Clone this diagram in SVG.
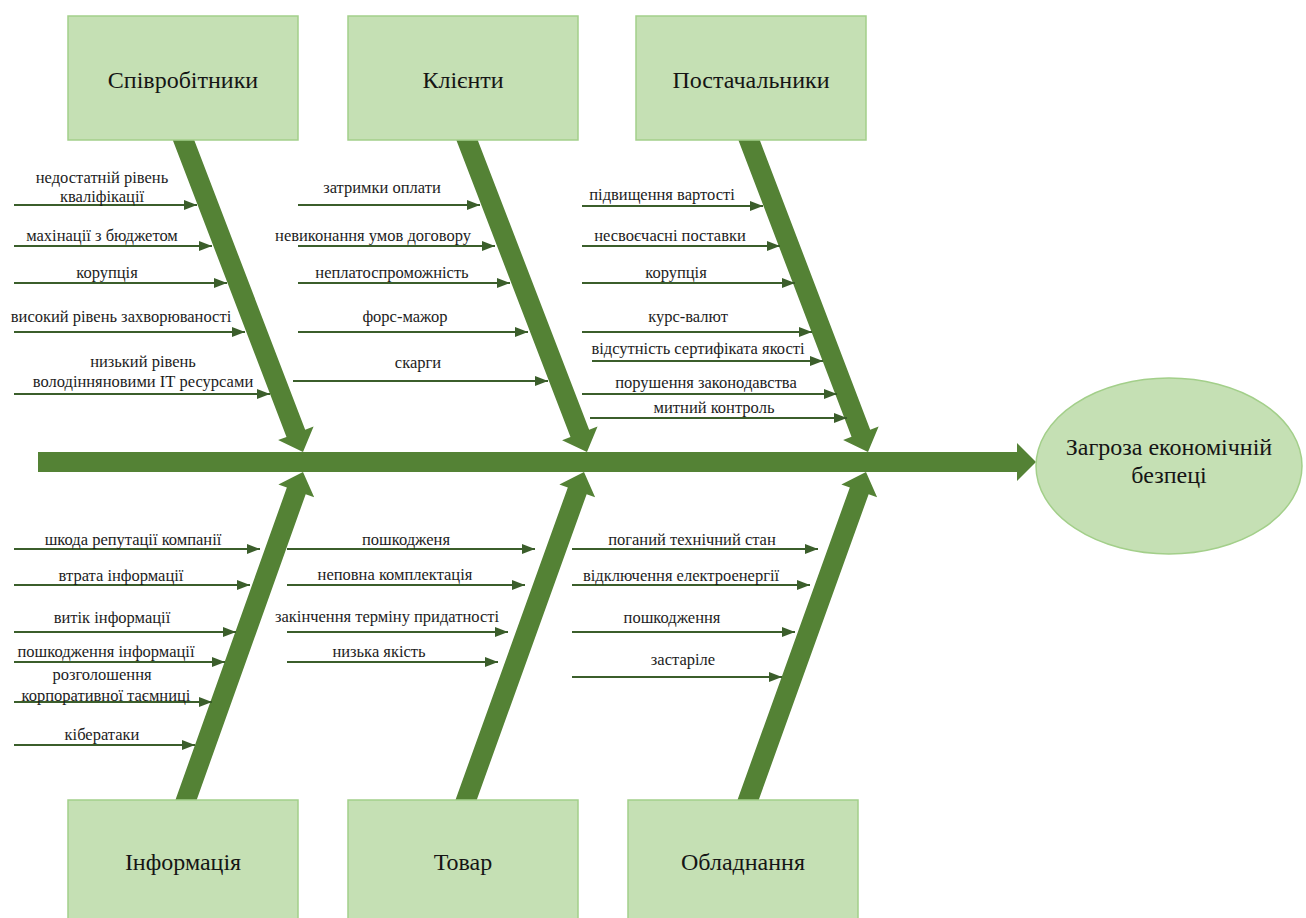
<svg xmlns="http://www.w3.org/2000/svg" width="1306" height="918" viewBox="0 0 1306 918" font-family="Liberation Serif, DejaVu Serif, serif">
<style>
.box{fill:#c5e0b4;stroke:#a3cf8a;stroke-width:1.5}
.big{fill:#548235}
.title{font-size:24px;fill:#151515;text-anchor:middle}
.lbl{font-size:16.5px;fill:#1c1c1c;text-anchor:middle}
.sa{stroke:#3b5e2b;stroke-width:2;fill:none;marker-end:url(#ah)}
</style>
<defs>
<marker id="ah" markerUnits="userSpaceOnUse" markerWidth="13" markerHeight="10" viewBox="0 0 13 10" refX="13" refY="5" orient="auto">
<path d="M0,0 L13,5 L0,10 z" fill="#3b5e2b"/>
</marker>
</defs>
<g id="connectors">
<polygon class="big" points="38,452 1017,452 1017,443 1036,462 1017,481 1017,472 38,472"/>
<polygon class="big" transform="translate(303,452) rotate(69.04)" points="-345,-10 -20,-10 -20,-19 0,0 -20,19 -20,10 -345,10"/>
<polygon class="big" transform="translate(587,452) rotate(68.96)" points="-345,-10 -20,-10 -20,-19 0,0 -20,19 -20,10 -345,10"/>
<polygon class="big" transform="translate(868,452) rotate(69.13)" points="-345,-10 -20,-10 -20,-19 0,0 -20,19 -20,10 -345,10"/>
<polygon class="big" transform="translate(303,472) rotate(-70.37)" points="-360,-10 -20,-10 -20,-19 0,0 -20,19 -20,10 -360,10"/>
<polygon class="big" transform="translate(584,472) rotate(-70.22)" points="-360,-10 -20,-10 -20,-19 0,0 -20,19 -20,10 -360,10"/>
<polygon class="big" transform="translate(866,472) rotate(-70.22)" points="-360,-10 -20,-10 -20,-19 0,0 -20,19 -20,10 -360,10"/>
<line class="sa" x1="14" y1="205" x2="197" y2="205"/>
<line class="sa" x1="14" y1="246" x2="212" y2="246"/>
<line class="sa" x1="14" y1="283" x2="227" y2="283"/>
<line class="sa" x1="14" y1="332" x2="245" y2="332"/>
<line class="sa" x1="14" y1="394" x2="270" y2="394"/>
<line class="sa" x1="298" y1="205" x2="480" y2="205"/>
<line class="sa" x1="298" y1="246" x2="495" y2="246"/>
<line class="sa" x1="298" y1="283" x2="510" y2="283"/>
<line class="sa" x1="298" y1="332" x2="528" y2="332"/>
<line class="sa" x1="293" y1="381" x2="548" y2="381"/>
<line class="sa" x1="582" y1="206" x2="763" y2="206"/>
<line class="sa" x1="582" y1="246" x2="780" y2="246"/>
<line class="sa" x1="582" y1="283" x2="795" y2="283"/>
<line class="sa" x1="582" y1="332" x2="812" y2="332"/>
<line class="sa" x1="592" y1="361" x2="823" y2="361"/>
<line class="sa" x1="582" y1="394" x2="837" y2="394"/>
<line class="sa" x1="590" y1="418" x2="847" y2="418"/>
<line class="sa" x1="14" y1="549" x2="260" y2="549"/>
<line class="sa" x1="14" y1="585" x2="250" y2="585"/>
<line class="sa" x1="14" y1="632" x2="236" y2="632"/>
<line class="sa" x1="14" y1="662" x2="225" y2="662"/>
<line class="sa" x1="14" y1="702" x2="212" y2="702"/>
<line class="sa" x1="14" y1="745" x2="195" y2="745"/>
<line class="sa" x1="287" y1="549" x2="535" y2="549"/>
<line class="sa" x1="287" y1="585" x2="525" y2="585"/>
<line class="sa" x1="287" y1="632" x2="508" y2="632"/>
<line class="sa" x1="287" y1="662" x2="498" y2="662"/>
<line class="sa" x1="572" y1="549" x2="818" y2="549"/>
<line class="sa" x1="572" y1="585" x2="810" y2="585"/>
<line class="sa" x1="572" y1="632" x2="795" y2="632"/>
<line class="sa" x1="572" y1="677" x2="782" y2="677"/>
</g>
<g id="labels">
<text class="lbl" x="102" y="183">недостатній рівень</text>
<text class="lbl" x="102" y="202">кваліфікації</text>
<text class="lbl" x="102" y="241">махінації з бюджетом</text>
<text class="lbl" x="107" y="278">корупція</text>
<text class="lbl" x="121" y="322">високий рівень захворюваності</text>
<text class="lbl" x="143" y="367">низький рівень</text>
<text class="lbl" x="143" y="387">володінняновими ІТ ресурсами</text>
<text class="lbl" x="382" y="193">затримки оплати</text>
<text class="lbl" x="373" y="241">невиконання умов договору</text>
<text class="lbl" x="392" y="278">неплатоспроможність</text>
<text class="lbl" x="405" y="322">форс-мажор</text>
<text class="lbl" x="418" y="368">скарги</text>
<text class="lbl" x="662" y="200">підвищення вартості</text>
<text class="lbl" x="670" y="241">несвоєчасні поставки</text>
<text class="lbl" x="676" y="278">корупція</text>
<text class="lbl" x="688" y="322">курс-валют</text>
<text class="lbl" x="698" y="354">відсутність сертифіката якості</text>
<text class="lbl" x="706" y="388">порушення законодавства</text>
<text class="lbl" x="714" y="413">митний контроль</text>
<text class="lbl" x="133" y="545">шкода репутації компанії</text>
<text class="lbl" x="121" y="581">втрата інформації</text>
<text class="lbl" x="112" y="623">витік інформації</text>
<text class="lbl" x="106" y="657">пошкодження інформації</text>
<text class="lbl" x="102" y="680">розголошення</text>
<text class="lbl" x="106" y="701">корпоративної таємниці</text>
<text class="lbl" x="102" y="740">кібератаки</text>
<text class="lbl" x="406" y="545">пошкодженя</text>
<text class="lbl" x="395" y="580">неповна комплектація</text>
<text class="lbl" x="387" y="622">закінчення терміну придатності</text>
<text class="lbl" x="379" y="657">низька якість</text>
<text class="lbl" x="692" y="545">поганий технічний стан</text>
<text class="lbl" x="681" y="581">відключення електроенергії</text>
<text class="lbl" x="672" y="623">пошкодження</text>
<text class="lbl" x="683" y="665">застаріле</text>
</g>
<g id="n-spivrobitnyky"><rect class="box" x="68" y="16" width="230" height="124"/><text class="title" x="183" y="88">Співробітники</text></g>
<g id="n-kliienty"><rect class="box" x="348" y="16" width="230" height="124"/><text class="title" x="463" y="88">Клієнти</text></g>
<g id="n-postachalnyky"><rect class="box" x="636" y="16" width="230" height="124"/><text class="title" x="751" y="88">Постачальники</text></g>
<g id="n-informatsiia"><rect class="box" x="68" y="800" width="230" height="130"/><text class="title" x="183" y="870">Інформація</text></g>
<g id="n-tovar"><rect class="box" x="348" y="800" width="230" height="130"/><text class="title" x="463" y="870">Товар</text></g>
<g id="n-obladnannia"><rect class="box" x="628" y="800" width="230" height="130"/><text class="title" x="743" y="870">Обладнання</text></g>
<g id="n-zagroza"><ellipse class="box" cx="1169" cy="466" rx="133" ry="88"/><text class="title" x="1169" y="455">Загроза економічній</text><text class="title" x="1169" y="483">безпеці</text></g>
</svg>
